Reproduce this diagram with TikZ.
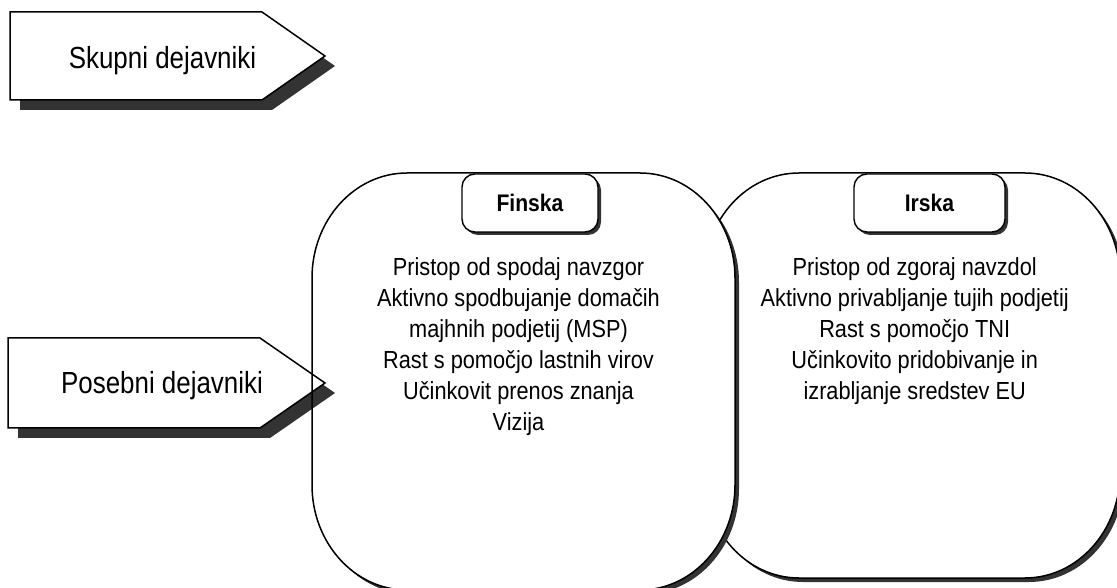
\documentclass[tikz,border=0pt]{standalone}
\usepackage{fontspec}
\setmainfont{Liberation Sans}[FakeStretch=0.88]
\newfontfamily\arrowfont{Liberation Sans}[FakeStretch=0.85]
\usetikzlibrary{shadows}
\definecolor{shade}{HTML}{333333}
\newcommand\bigrbox[5]{%
  \path[#1] (#2+95,#5) -- (#4-95,#5)
    arc[start angle=90,end angle=0,x radius=95,y radius=105] -- (#4,#3+105)
    arc[start angle=0,end angle=-90,x radius=95,y radius=105] -- (#2+95,#3)
    arc[start angle=270,end angle=180,x radius=95,y radius=105] -- (#2,#5-105)
    arc[start angle=180,end angle=90,x radius=95,y radius=105] -- cycle;}
\tikzset{
  outline/.style={draw=black,line width=1.5pt},
  shadowfill/.style={fill=shade},
  labelbox/.style={draw=black,line width=1.4pt,fill=white,rounded corners=13pt,
    minimum height=58pt,inner sep=0pt,font=\fontsize{24}{24}\selectfont\bfseries,
    general shadow={fill=shade,shadow xshift=3pt,shadow yshift=-3pt}},
  bodytext/.style={align=center,inner sep=0pt,font=\fontsize{24.7}{31}\selectfont},
  arrowtext/.style={inner sep=0pt,font=\arrowfont\fontsize{30.5}{32}\selectfont},
}
\begin{document}
\begin{tikzpicture}[x=1pt,y=1pt]
\useasboundingbox (0,0) rectangle (1117,587);
% Irska box (behind)
\bigrbox{shadowfill}{708}{5}{1124}{410}
\bigrbox{outline,fill=white}{704}{9}{1120}{414}
% Finska box fill
\bigrbox{shadowfill}{316}{-7}{739}{410}
\bigrbox{fill=white}{312}{-3}{735}{414}
% Posebni arrow
\path[shadowfill] (18,149) -- (270,149) -- (335,194) -- (270,239) -- (18,239) -- cycle;
\path[outline,fill=white] (8,159) -- (260,159) -- (325,204) -- (260,249) -- (8,249) -- cycle;
% Finska border on top
\bigrbox{outline}{312}{-3}{735}{414}
% Skupni arrow
\path[shadowfill] (20,477) -- (272,477) -- (335,521) -- (272,565) -- (20,565) -- cycle;
\path[outline,fill=white] (10,487) -- (262,487) -- (325,531) -- (262,575) -- (10,575) -- cycle;
% labels
\node[labelbox,minimum width=136pt] (finska) at (530,384) {Finska};
\node[labelbox,minimum width=151pt] (irska) at (929.5,384) {Irska};
% texts
\node[arrowtext,anchor=base] (skupni) at (162.5,518.7) {Skupni dejavniki};
\node[arrowtext,anchor=base] (posebni) at (162,193) {Posebni dejavniki};
\node[bodytext,anchor=north] (finskatext) at (518.5,329.5) {Pristop od spodaj navzgor\\Aktivno spodbujanje domačih\\majhnih podjetij (MSP)\\Rast s pomočjo lastnih virov\\Učinkovit prenos znanja\\Vizija};
\node[bodytext,anchor=north] (irskatext) at (914.7,329.5) {Pristop od zgoraj navzdol\\Aktivno privabljanje tujih podjetij\\Rast s pomočjo TNI\\Učinkovito pridobivanje in\\izrabljanje sredstev EU};
\end{tikzpicture}
\end{document}
